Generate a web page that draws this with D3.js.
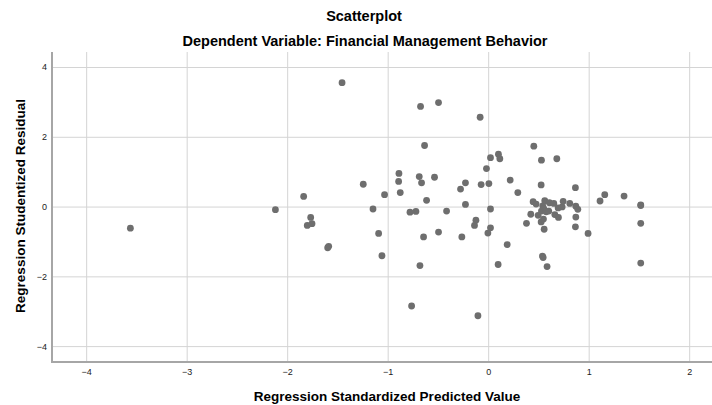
<!DOCTYPE html>
<html>
<head>
<meta charset="utf-8">
<script src="https://cdn.jsdelivr.net/npm/d3@7"></script>
<style>
  body { margin: 0; background: #fff; }
  text { font-family: "Liberation Sans", Arial, sans-serif; }
</style>
</head>
<body>
<div id="container"></div>
<script>
const predicted = [-3.56, -2.117, -1.836, -1.766, -1.80, -1.753, -1.587, -1.597, -1.454, -1.243,
  -1.146, -1.09, -1.057, -1.031, -0.888, -0.891, -0.875, -0.778, -0.719, -0.762,
  -0.686, -0.663, -0.673, -0.679, -0.633, -0.643, -0.613, -0.534, -0.494, -0.494,
  -0.414, -0.275, -0.262, -0.226, -0.226, -0.136, -0.122, -0.102, -0.08, -0.07,
  0.007, -0.017, 0.023, 0.102, 0.116, 0.023, -0.003, 0.023, 0.099, 0.189,
  0.219, 0.295, 0.381, 0.424, 0.447, 0.454, 0.477, 0.497, 0.527, 0.53,
  0.527, 0.53, 0.54, 0.547, 0.543, 0.55, 0.553, 0.557, 0.563, 0.577,
  0.586, 0.603, 0.609, 0.653, 0.663, 0.683, 0.696, 0.699, 0.736, 0.746,
  0.812, 0.868, 0.868, 0.872, 0.872, 0.892, 0.994, 1.113, 1.16, 1.352,
  1.518, 1.518, 1.518, 1.518];
const residual = [-0.62, -0.09, 0.29, -0.31, -0.54, -0.49, -1.14, -1.18, 3.55, 0.64,
  -0.07, -0.77, -1.41, 0.34, 0.95, 0.72, 0.40, -0.16, -0.14, -2.85,
  0.86, 0.68, 2.87, -1.69, 1.75, -0.87, 0.18, 0.84, 2.98, -0.73,
  -0.13, 0.50, -0.87, 0.68, 0.06, -0.54, -0.39, -3.13, 2.56, 0.63,
  0.66, 1.09, 1.40, 1.50, 1.37, -0.07, -0.76, -0.61, -1.66, -1.09,
  0.76, 0.40, -0.48, -0.22, 0.14, 1.73, 0.07, -0.25, 0.62, 1.33,
  -0.44, -0.13, -1.42, -1.46, 0.02, -0.36, -0.06, -0.65, 0.17, -0.15,
  -1.72, -0.13, 0.11, 0.09, -0.23, 1.37, -0.04, -0.31, -0.01, 0.15,
  0.09, 0.54, -0.58, 0.01, -0.30, -0.08, -0.77, 0.16, 0.34, 0.30,
  0.05, 0.03, -0.48, -1.62];
const xTicks = [-4, -3, -2, -1, 0, 1, 2];
const yTicks = [-4, -2, 0, 2, 4];

const w = 712, h = 405;
const plot = {left: 52, right: 712, top: 52, bottom: 362};

const svg = d3.select("#container")
    .append("svg")
    .attr("width", w)
    .attr("height", h);

const x = d3.scaleLinear().domain([-4.34, 2.227]).range([plot.left, plot.right]);
const y = d3.scaleLinear().domain([-4.455, 4.43]).range([plot.bottom, plot.top]);

// grid lines
svg.append("g")
    .attr("transform", "translate(0," + plot.bottom + ")")
    .call(d3.axisBottom(x).tickValues(xTicks).tickSize(-(plot.bottom - plot.top)).tickFormat(""))
    .call(g => g.select(".domain").remove())
    .call(g => g.selectAll("line").attr("stroke", "#d4d4d4"));

svg.append("g")
    .attr("transform", "translate(" + plot.left + ",0)")
    .call(d3.axisLeft(y).tickValues(yTicks).tickSize(-(plot.right - plot.left)).tickFormat(""))
    .call(g => g.select(".domain").remove())
    .call(g => g.selectAll("line").attr("stroke", "#d4d4d4"));

// tick labels
svg.append("g")
    .attr("transform", "translate(0," + plot.bottom + ")")
    .call(d3.axisBottom(x).tickValues(xTicks).tickSize(0).tickPadding(7).tickFormat(d3.format("d")))
    .call(g => g.select(".domain").remove())
    .call(g => g.selectAll("text").attr("font-size", 9).attr("fill", "#222")
          .style("font-family", "'Liberation Sans', Arial, sans-serif"));

svg.append("g")
    .attr("transform", "translate(" + plot.left + ",0)")
    .call(d3.axisLeft(y).tickValues(yTicks).tickSize(0).tickPadding(5).tickFormat(d3.format("d")))
    .call(g => g.select(".domain").remove())
    .call(g => g.selectAll("text").attr("font-size", 9).attr("fill", "#222")
          .style("font-family", "'Liberation Sans', Arial, sans-serif"));

svg.append("line")
    .attr("x1", plot.left).attr("x2", plot.left)
    .attr("y1", plot.top).attr("y2", plot.bottom + 1)
    .attr("stroke", "#a6a6a6").attr("stroke-width", 2);
svg.append("line")
    .attr("x1", plot.left - 1).attr("x2", plot.right)
    .attr("y1", plot.bottom).attr("y2", plot.bottom)
    .attr("stroke", "#a6a6a6").attr("stroke-width", 2);

// points
svg.append("g")
    .selectAll("circle")
    .data(predicted.map((d, i) => [d, residual[i]]))
    .enter()
    .append("circle")
    .attr("cx", d => x(d[0]))
    .attr("cy", d => y(d[1]))
    .attr("r", 3.4)
    .attr("fill", "#6e6e6e");

// titles
svg.append("text")
    .attr("x", 364).attr("y", 21)
    .attr("text-anchor", "middle")
    .attr("font-size", 14.5).attr("font-weight", "bold")
    .text("Scatterplot");
svg.append("text")
    .attr("x", 365).attr("y", 46)
    .attr("text-anchor", "middle")
    .attr("font-size", 14.5).attr("font-weight", "bold")
    .text("Dependent Variable: Financial Management Behavior");
svg.append("text")
    .attr("x", 387).attr("y", 401)
    .attr("text-anchor", "middle")
    .attr("font-size", 13.5).attr("font-weight", "bold")
    .text("Regression Standardized Predicted Value");
svg.append("text")
    .attr("transform", "translate(25,206) rotate(-90)")
    .attr("text-anchor", "middle")
    .attr("font-size", 13.5).attr("font-weight", "bold")
    .text("Regression Studentized Residual");
</script>
</body>
</html>
